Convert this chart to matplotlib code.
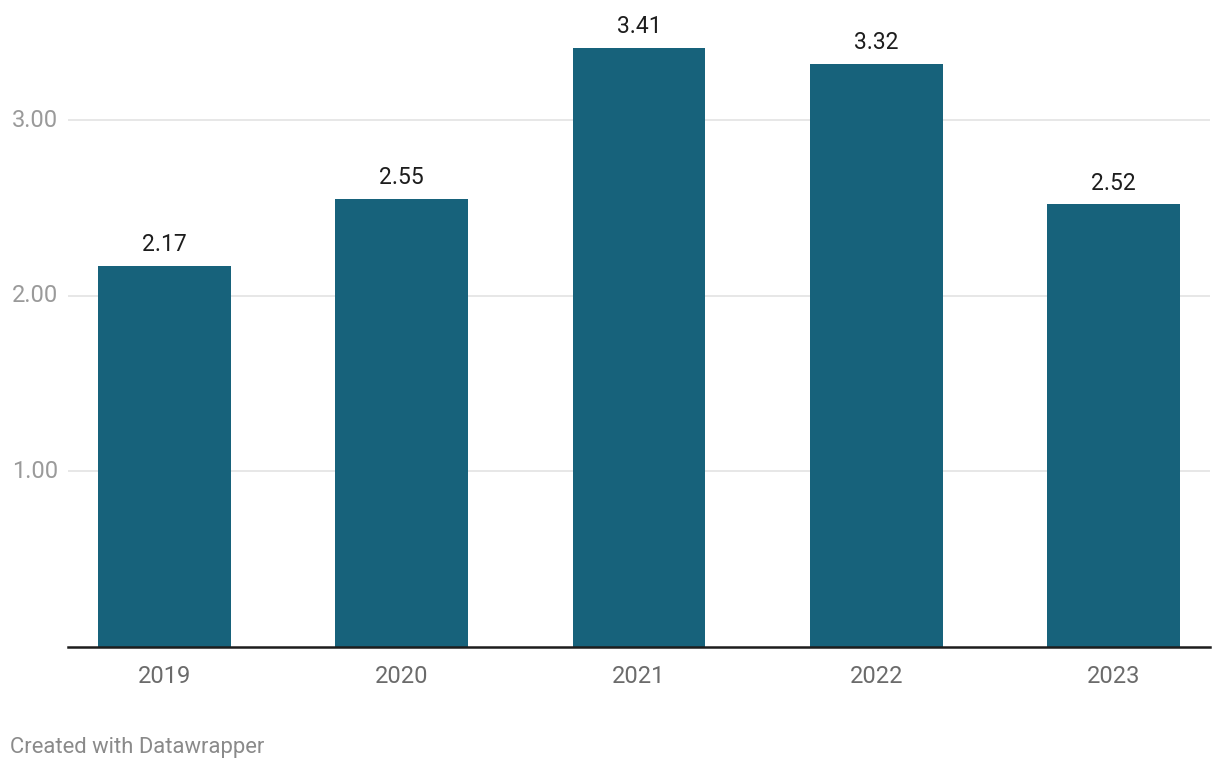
import matplotlib.pyplot as plt
import numpy as np

years = ["2019", "2020", "2021", "2022", "2023"]
values = [2.17, 2.55, 3.41, 3.32, 2.52]
yticks = [1.0, 2.0, 3.0]

plt.rcParams['font.family'] = ['Roboto', 'DejaVu Sans']

fig = plt.figure(figsize=(12.2, 7.7), dpi=100)
ax = fig.add_axes([68 / 1220, 0.1597, (1210 - 68) / 1220, 0.981 - 0.1597])

x = np.arange(len(years))
bars = ax.bar(x, values, width=0.56, color='#17627b', zorder=3)

for xi, v in zip(x, values):
    ax.annotate(f"{v:.2f}", (xi, v), xytext=(0, 7), textcoords='offset points',
                ha='center', va='bottom', fontsize=16.5, color='#1d1d1d')

ax.set_xlim(-0.405, 4.405)
ax.set_ylim(0, 3.6)
ax.set_yticks(yticks)
ax.set_yticklabels([f"{t:.2f}" for t in yticks])
ax.set_xticks(x)
ax.set_xticklabels(years)

for t in yticks:
    ax.axhline(t, color='#e5e5e5', linewidth=1.3, zorder=1)

for s in ['top', 'right', 'left']:
    ax.spines[s].set_visible(False)
ax.spines['bottom'].set_color('#1d1d1d')
ax.spines['bottom'].set_linewidth(1.8)
ax.spines['bottom'].set_zorder(4)

ax.tick_params(axis='y', length=0, pad=7, labelsize=17, labelcolor='#9a9a9a')
ax.tick_params(axis='x', length=0, pad=13, labelsize=17, labelcolor='#6b6b6b')
for lbl in ax.get_yticklabels():
    lbl.set_va('center')

fig.text(10 / 1220, 1 - 748 / 770, "Created with Datawrapper", fontsize=15.8,
         color='#8a8a8a', ha='left', va='center')

fig.savefig("out.png", dpi=100, facecolor='white')
